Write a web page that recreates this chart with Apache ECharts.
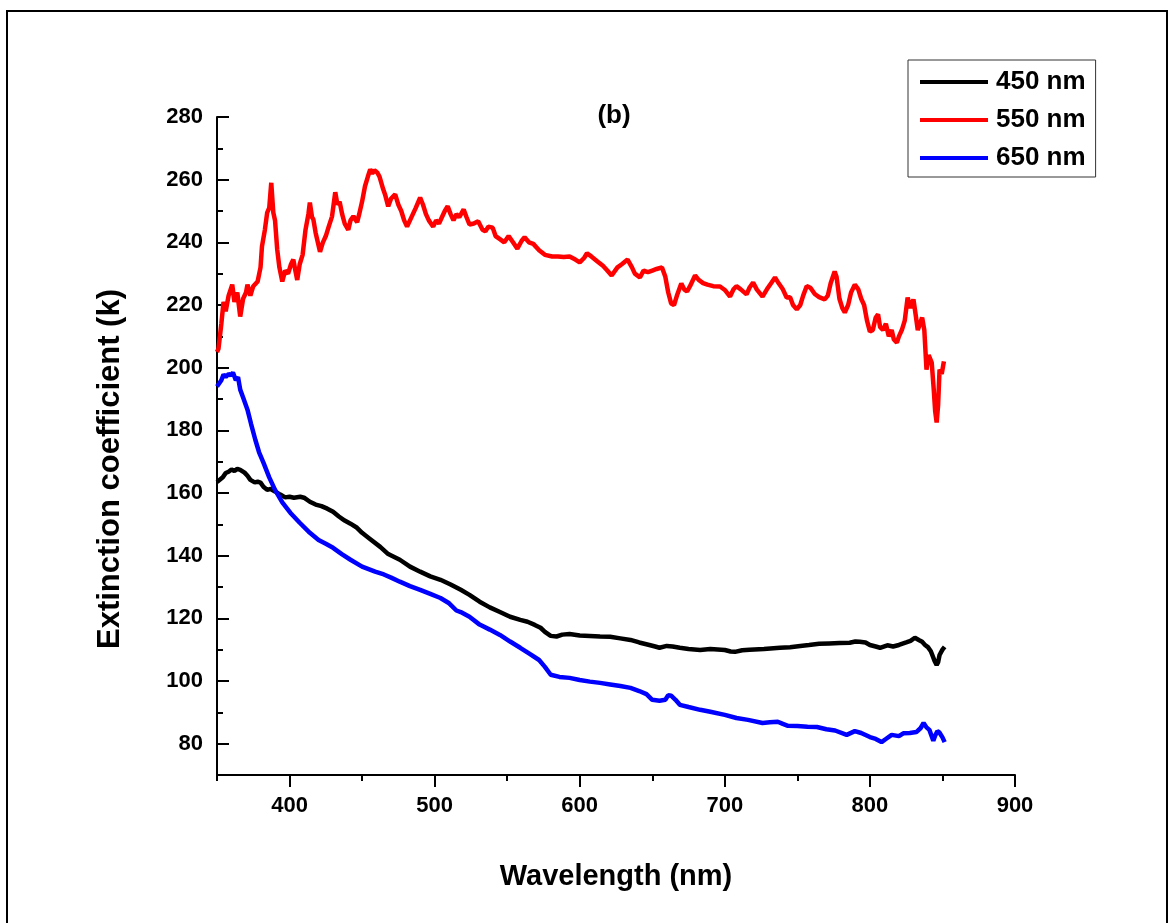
<!DOCTYPE html>
<html>
<head>
<meta charset="utf-8">
<script src="https://cdn.jsdelivr.net/npm/echarts@6/dist/echarts.min.js"></script>
<style>
  html, body { margin: 0; padding: 0; background: #fff; }
  #main { width: 1170px; height: 923px; }
</style>
</head>
<body>
<div id="main"></div>
<script>
// 数据：波长 (nm) 和消光系数
const seriesNames = ["450 nm", "550 nm", "650 nm"];
const seriesColors = ["#000000", "#ff0000", "#0000ff"];

const wl450 = [350,351,354,356,358,360,362,364,366,369,371,373,376,378,380,382,384.6,387,390,393.6,397,400,403,407.4,410,414,418,422,426,430,434,438,442,446.5,450,455,462.5,468,476,483,490,497,504,511,518,524,531,538,545,552,559,564,569,573,576,580,584,588,593,600,607,614,621,628,635,641,648,652,655,660,664,669,675,683,690,700,704,707,712,717,727,738,745,752,758,765,772,779,786,790,793,797,800,804,807,812,816,820,825,828,831,834,836,838,840,842,843,844.5,846,847,848,850,851.5];
const k450 = [163.5,163.6,165,166.4,166.8,167.5,167,167.7,167.4,166.5,165.5,164.2,163.4,163.6,163.3,162,161,161.3,160.5,159.5,158.6,158.8,158.5,158.8,158.5,157.2,156.3,155.8,155,154,152.5,151.2,150.2,148.9,147.3,145.5,142.8,140.5,138.7,136.5,134.9,133.4,132.3,130.8,129.1,127.5,125.3,123.5,122,120.5,119.5,118.9,117.9,117,115.7,114.4,114.2,114.8,115,114.5,114.4,114.2,114.1,113.6,113.1,112.3,111.5,111,110.6,111.2,111,110.6,110.2,109.9,110.2,109.9,109.4,109.3,109.8,110,110.2,110.6,110.8,111.2,111.5,111.9,112,112.1,112.2,112.6,112.5,112.3,111.5,111,110.6,111.4,111,111.5,112.3,112.8,113.8,113,112.5,111.5,110.8,109.5,108.3,106.5,105.1,106,108.3,110,110.9];

const wl550 = [350,351,353,354.5,356,358,360.5,362,364,366,368,370,371,373,375,378,380,381,383,384.6,386,387.4,388.8,390,391.5,393,395,397,399,401,402.6,404,405.3,407,409,411,413,414,415.5,416.4,418,420,421,423,425,427,429.3,431.5,433,434.5,436.3,438,440.5,442,444,446.6,448,450,452,454,455.6,457,458.5,460.4,462,464.5,466,468,470,472.8,475,477,479,481,483,485,487,490,492,494,496,499,501,503,505,507,509,511,513,515,517,520,522,524,527,530,533,535,537,540,542,545,548,551,554,557,560,562,565,568,572,576,581,585,589,593,597,600,603,605,608,612,616,619,622,626,629,633,636,638,641.5,644,647,650,653,656.7,659,661,663,665,667,670,672,674,676,679.5,682,685,688,692,696.7,700,703.6,706,708,711,715,717,719.5,722,726,729,732,734.6,737,740,742.6,745,747,749.6,752,754,756.4,759,762,765,768.8,771,773,775.7,777,779,781,782.7,785,787,789.6,792,794,796,798,800,802,804,805.6,807,809,811,813,815,816.5,818.6,820,822,824,826,828,830,831.5,833,834.5,836,837.5,839,840.5,842.6,844,845,846,847,848,849.5,851];
const k550 = [205,206,214,221,218,223,226.5,221,224,216.3,222,224,226.5,223,226,227.5,232,238.7,244,249.5,251,259,249.5,247,237.7,232,227.5,231,230,233,234.5,231,228,233,236,244,249,252.7,248,247.3,243,239,237,240,242,245,248.3,256,252,253,248.9,246,244,247,248.3,246.4,249,253,257.9,261,263.3,262,263,262.3,261,257,255,251.5,254,255.3,252,250,247,245,247,249,251,254.3,252,249,247,245,247,246,248,250,251.5,249,247,249,248,250.5,248,245.7,246,246.7,244,243.5,245,244.7,242,241,240,242,240,238,240.5,241.6,240,239.5,237.5,236,235.5,235.5,235.3,235.5,234.5,233.6,235,236.5,235.5,234,232.5,231,229.4,232,233,234.5,232,230,228.8,231,230.5,231,231.5,232,229,224,220.5,220,223,226.9,225,224.3,226,229.4,228,227,226.5,226,225.9,224.8,222.7,225,226,225,223.4,225.5,227.2,225,222.7,225,227,228.8,227,225,222.4,222.5,220,218.6,220,223,226,225.5,223.5,222.5,221.8,223,227,230.7,229,222,219,217.6,220,224,226.5,225,222,220,215,211.5,212,216,217,213,212,214,210,212,209,208,210,212,215,222.4,219,221.8,217,212,214,216,212,199.4,204,201.6,193,186,182.5,188,199.4,198,202];

const wl650 = [350,351,353,354.5,356,358,359.5,361,363,364.5,366,368,371,373.5,376.4,379,382,386,390,395,400.5,407,414,420,425,430,436,442,450,459,465,470,476,483,490,497,504,510,515,518,524,531,538,545,552,559,565,572,576,580,586,593,600,607,614,621,628,635,641,646,650,655,659,661,663,666,669,675,683,690,700,708,716,726,731,736.5,740,743.5,750,757,763.5,770,776,784,789.6,794,800,804,808,811,815,820,823,827.5,832,835,837,839,841,843.7,845,846.5,848,850,851.5];
const k650 = [194,194.6,196,197.8,197,198,197.5,198.4,196,197,193,190.5,186.6,182,177,173,169.7,165,161,157,153.7,150.5,147.3,145,143.8,142.5,140.5,138.7,136.5,134.9,134,133,131.7,130.3,129.1,127.8,126.5,124.8,122.5,122,120.5,118,116.4,114.7,112.6,110.6,108.8,106.7,104.5,102,101.3,101,100.3,99.8,99.4,98.9,98.4,97.8,96.8,95.8,94,93.7,94,95.5,95.3,94,92.4,91.7,90.8,90.2,89.2,88.2,87.6,86.6,86.8,87,86.3,85.7,85.6,85.4,85.3,84.6,84.2,82.8,84,83.4,82.1,81.5,80.5,81.5,82.8,82.4,83.3,83.4,83.7,85,86.6,85.2,84.4,80.9,82.6,84,83.5,82,80.5];

// 刻度
const xMajor = [400, 500, 600, 700, 800, 900];
const xMinor = [350, 450, 550, 650, 750, 850];
const yMajor = [80, 100, 120, 140, 160, 180, 200, 220, 240, 260, 280];
const yMinor = [70, 90, 110, 130, 150, 170, 190, 210, 230, 250, 270];

const font = "'Liberation Sans', Arial, sans-serif";

// 把两个数组拼成 [x, y]
function pairs(xs, ys) {
    return xs.map((x, i) => [x, ys[i]]);
}

const allWl = [wl450, wl550, wl650];
const allK = [k450, k550, k650];

const chart = echarts.init(document.getElementById("main"));

const tickStyle = { color: "#000", width: 2 };
const labelStyle = { color: "#000", fontFamily: font, fontWeight: "bold", fontSize: 22 };

chart.setOption({
    animation: false,
    backgroundColor: "#fff",
    grid: { left: 217, top: 117, right: 155, bottom: 148 },
    legend: {
        orient: "vertical",
        left: 908,
        top: 60,
        data: seriesNames,
        icon: "rect",
        itemWidth: 68,
        itemHeight: 4,
        itemGap: 10,
        padding: [8, 10, 5, 12],
        borderColor: "#333",
        borderWidth: 1,
        textStyle: {
            color: "#000", fontFamily: font, fontWeight: "bold",
            fontSize: 26, lineHeight: 28, padding: [0, 0, 0, 3]
        }
    },
    xAxis: [
        {
            type: "value", min: 350, max: 900, position: "bottom",
            name: "Wavelength (nm)", nameLocation: "middle", nameGap: 87,
            nameTextStyle: { color: "#000", fontFamily: font, fontWeight: "bold", fontSize: 29 },
            axisLine: { onZero: false, lineStyle: tickStyle },
            axisTick: { customValues: xMajor, length: 12, lineStyle: tickStyle },
            axisLabel: Object.assign({ customValues: xMajor, margin: 20 }, labelStyle),
            splitLine: { show: false }
        },
        {
            type: "value", min: 350, max: 900, position: "bottom",
            axisLine: { show: false, onZero: false },
            axisTick: { customValues: xMinor, length: 6, lineStyle: tickStyle },
            axisLabel: { show: false },
            splitLine: { show: false }
        }
    ],
    yAxis: [
        {
            type: "value", min: 70, max: 280, position: "left",
            axisLine: { show: true, onZero: false, lineStyle: tickStyle },
            axisTick: { customValues: yMajor, inside: true, length: 12, lineStyle: tickStyle },
            axisLabel: Object.assign({ customValues: yMajor, margin: 14 }, labelStyle),
            splitLine: { show: false }
        },
        {
            type: "value", min: 70, max: 280, position: "left",
            axisLine: { show: false, onZero: false },
            axisTick: { customValues: yMinor, inside: true, length: 6, lineStyle: tickStyle },
            axisLabel: { show: false },
            splitLine: { show: false }
        }
    ],
    graphic: [
        {
            type: "rect",
            shape: { x: 7, y: 11, width: 1160, height: 930 },
            style: { fill: null, stroke: "#000", lineWidth: 2 },
            silent: true
        },
        {
            type: "text",
            x: 614, y: 116,
            style: {
                text: "(b)", fill: "#000", font: "bold 26px " + font,
                textAlign: "center", textVerticalAlign: "middle"
            }
        },
        {
            // y 轴标题，原图比轴中点略低
            type: "text",
            x: 110, y: 469,
            rotation: Math.PI / 2,
            style: {
                text: "Extinction coefficient (k)", fill: "#000", font: "bold 31px " + font,
                textAlign: "center", textVerticalAlign: "middle"
            }
        }
    ],
    series: seriesNames.map((name, i) => ({
        name: name,
        type: "line",
        xAxisIndex: 0,
        yAxisIndex: 0,
        showSymbol: false,
        symbol: "none",
        color: seriesColors[i],
        lineStyle: { color: seriesColors[i], width: 4.5 },
        data: pairs(allWl[i], allK[i])
    }))
});
</script>
</body>
</html>
